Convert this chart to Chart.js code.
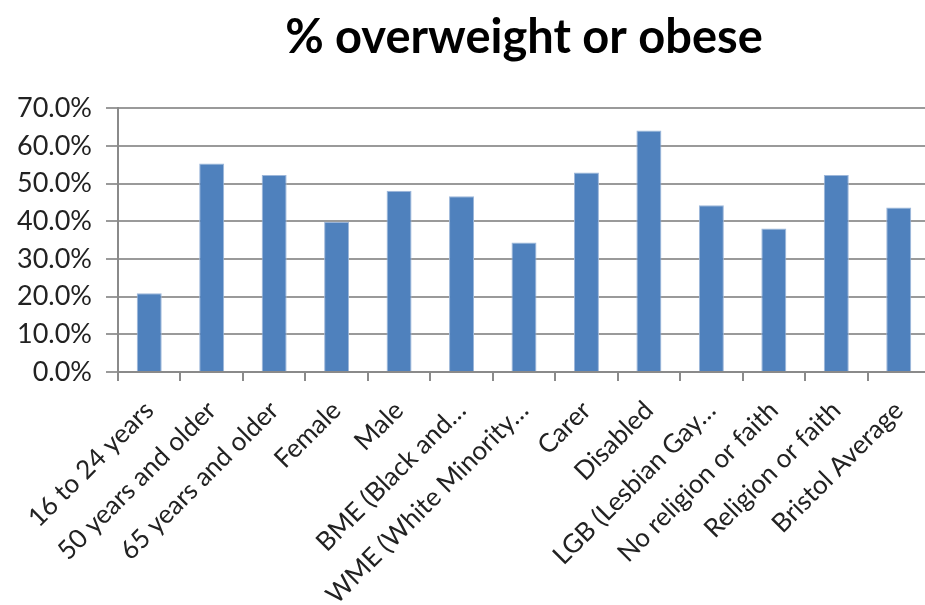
<!DOCTYPE html>
<html>
<head>
<meta charset="utf-8">
<script src="https://cdn.jsdelivr.net/npm/chart.js@4/dist/chart.umd.min.js"></script>
<style>
  html, body { margin: 0; padding: 0; background: #fff; overflow: hidden; }
  #wrap { width: 935px; height: 605px; }
</style>
</head>
<body>
<div id="wrap"><canvas id="grafica" width="935" height="605"></canvas></div>
<script>
// categorias y valores
const categorias = [
  "16 to 24 years", "50 years and older", "65 years and older", "Female", "Male",
  "BME (Black and…", "WME (White Minority…", "Carer", "Disabled",
  "LGB (Lesbian Gay…", "No religion or faith", "Religion or faith", "Bristol Average"
];
const porcentajes = [20.9, 55.4, 52.3, 39.9, 48.1, 46.7, 34.4, 53.0, 64.1, 44.3, 38.1, 52.3, 43.7];
const marcasY = [0, 10, 20, 30, 40, 50, 60, 70];

const fuente = "Lato, 'Open Sans', sans-serif";

const lienzo = document.getElementById("grafica");
const miGrafica = new Chart(lienzo, {
  type: "bar",
  data: {
    labels: categorias,
    datasets: [
      {
        label: "% overweight or obese",
        data: porcentajes,
        backgroundColor: "#4F81BD",
        borderColor: "#9DB7DA",
        borderWidth: 1,
        barPercentage: 0.8,
        categoryPercentage: 0.5,
      },
    ],
  },
  options: {
    responsive: false,
    animation: false,
    layout: { padding: 0 },
    plugins: {
      legend: { display: false },
      tooltip: { enabled: false },
      title: {
        display: true,
        text: "% overweight or obese",
        fullSize: false,
        color: "#000",
        font: { family: fuente, size: 47, weight: "bold" },
        padding: { top: 10, bottom: 42 },
      },
    },
    scales: {
      x: {
        grid: {
          drawOnChartArea: false,
          drawTicks: true,
          tickLength: 9,
          color: "#8a8a8a",
          lineWidth: 2,
        },
        border: { color: "#8a8a8a", width: 2 },
        ticks: {
          color: "#222",
          font: { family: fuente, size: 26 },
          minRotation: 45,
          maxRotation: 45,
          autoSkip: false,
          padding: 14,
        },
        afterFit: (escala) => {
          escala.height = 233;
        },
      },
      y: {
        min: 0,
        max: 70,
        afterBuildTicks: (escala) => {
          escala.ticks = marcasY.map((v) => ({ value: v }));
        },
        grid: {
          color: "#9a9a9a",
          lineWidth: 2,
          tickLength: 12,
        },
        border: { color: "#8a8a8a", width: 2 },
        ticks: {
          color: "#222",
          font: { family: fuente, size: 27 },
          padding: 14,
          callback: (v) => v.toFixed(1) + "%",
        },
        afterFit: (escala) => {
          escala.width = 118;
        },
      },
    },
  },
});
</script>
</body>
</html>
